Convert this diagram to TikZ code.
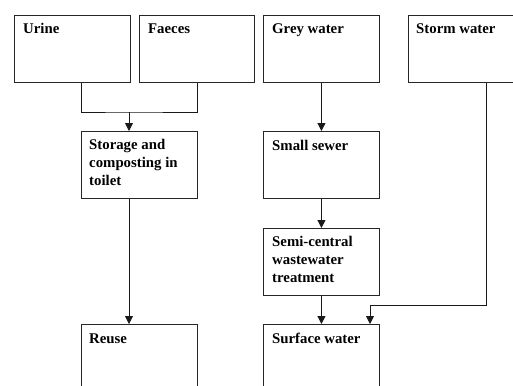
\documentclass[tikz,border=0pt]{standalone}
\usepackage{fontspec}
\setmainfont{Liberation Serif}
\usetikzlibrary{arrows.meta,calc}
\begin{document}
\begin{tikzpicture}[x=1pt,y=-1pt,
  box/.style={draw=black!85, line width=0.9pt, minimum width=116pt,
    minimum height=67pt, inner sep=0pt, anchor=north west},
  % multi-line titles sit on the baseline of their last line
  lbl/.style={font=\fontsize{14.8}{18}\selectfont\bfseries, inner sep=0pt,
    anchor=base west, align=left},
  link/.style={draw=black!90, line width=0.8pt},
  flow/.style={link, -{Triangle[width=8pt,length=8pt]}}]

  % frame of the page; the storm water box runs off its right edge
  \path[use as bounding box] (0,0) rectangle (513,385);
  \clip (0,0) rectangle (513,385);

  % sources
  \node[box] (urine)  at (14,15)  {};
  \node[box, minimum width=115pt] (faeces) at (139,15) {};
  \node[box] (grey)   at (263,15) {};
  \node[box, minimum width=140pt] (storm)  at (408,15) {};

  % treatment steps
  \node[box] (storage) at (81,131)  {};
  \node[box] (sewer)   at (263,131) {};
  \node[box] (semi)    at (263,228) {};

  % destinations
  \node[box, minimum height=90pt] (reuse)   at (81,324)  {};
  \node[box, minimum height=90pt] (surface) at (263,324) {};

  % box titles
  \node[lbl] (urineT)   at ($(urine.north west)+(9,19)$)   {Urine};
  \node[lbl] (faecesT)  at ($(faeces.north west)+(9,19)$)  {Faeces};
  \node[lbl] (greyT)    at ($(grey.north west)+(9,19)$)    {Grey water};
  \node[lbl] (stormT)   at ($(storm.north west)+(8,19)$)   {Storm water};
  \node[lbl] (storageT) at ($(storage.north west)+(8,54)$) {Storage and\\composting in\\toilet};
  \node[lbl] (sewerT)   at ($(sewer.north west)+(9,19)$)   {Small sewer};
  \node[lbl] (semiT)    at ($(semi.north west)+(9,54)$)    {Semi-central\\wastewater\\treatment};
  \node[lbl] (reuseT)   at ($(reuse.north west)+(8,19)$)   {Reuse};
  \node[lbl] (surfaceT) at ($(surface.north west)+(9,19)$) {Surface water};

  % urine and faeces merge into the toilet
  \coordinate (merge) at ($(storage.north west)+(48,-19)$);
  \draw[link] ($(urine.south west)+(67,0)$) |- (merge) -| (faeces.south);
  \draw[flow] (merge) -- ($(storage.north west)+(48,0)$);
  \draw[flow] ($(storage.south west)+(48,0)$) -- ($(reuse.north west)+(48,0)$);

  % grey water chain
  \draw[flow] (grey.south) -- (sewer.north);
  \draw[flow] (sewer.south) -- (semi.north);
  \draw[flow] (semi.south) -- (surface.north);

  % storm water bypass
  \draw[flow] ($(storm.south west)+(78,0)$) -- ++(0,222)
    -| ($(surface.north west)+(107,0)$);
\end{tikzpicture}
\end{document}
